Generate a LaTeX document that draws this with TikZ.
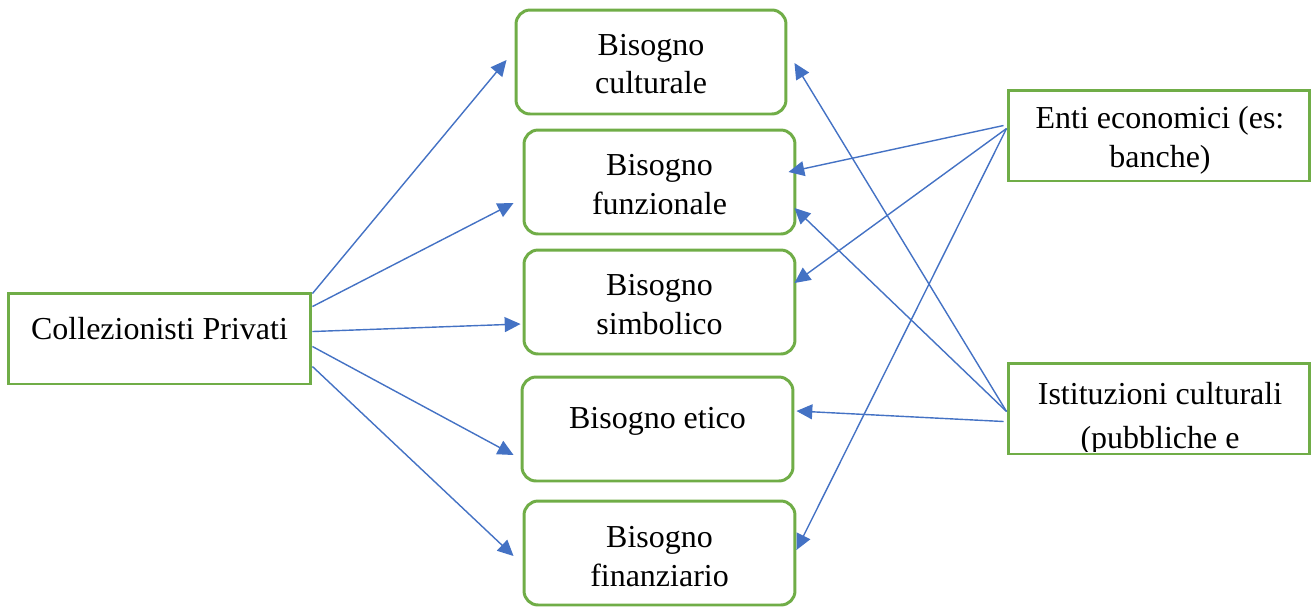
\documentclass[tikz,border=0pt]{standalone}
\usepackage{fontspec}
\setmainfont{Liberation Serif}
\usetikzlibrary{arrows.meta,calc}

\definecolor{boxgreen}{HTML}{70AD47}
\definecolor{arrowblue}{HTML}{4472C4}

\begin{document}
\begin{tikzpicture}[x=0.02cm,y=-0.02cm,
	box/.style={draw=boxgreen,line width=1.7pt,minimum width=6.06cm,minimum height=1.82cm,inner sep=0pt},
	bubble/.style={box,rounded corners=8pt,minimum width=5.42cm,minimum height=2.08cm},
	txt/.style={font=\fontsize{18.2}{22}\selectfont,align=center,inner sep=0pt},
	arr/.style={draw=arrowblue,line width=0.8pt,-{Triangle[length=9pt,width=8.5pt]}}]
		
		\useasboundingbox (0,0) rectangle (1312,606);
		
		% Left box
		\node[box] (cp) at (159.5,338.5) {};
		\node[txt] (cp-txt) at ($(cp)+(0,-10)$) {Collezionisti Privati};
		
		% Bisogni
		\node[bubble,minimum width=5.4cm] (cult) at (651,62) {};
		\node[txt] (cult-txt) at ($(cult)+(0,2)$) {Bisogno\\culturale};
		\node[bubble] (funz) at (659.5,182) {};
		\node[txt] (funz-txt) at ($(funz)+(0,2.5)$) {Bisogno\\funzionale};
		\node[bubble] (simb) at (659.5,302) {};
		\node[txt] (simb-txt) at ($(simb)+(0,2.5)$) {Bisogno\\simbolico};
		\node[bubble] (etico) at (657.5,429) {};
		\node[txt] (etico-txt) at ($(etico)+(0,-8)$) {Bisogno etico};
		\node[bubble] (fin) at (659.5,553) {};
		\node[txt] (fin-txt) at ($(fin)+(0,3.5)$) {Bisogno\\finanziario};
		
		% Right boxes (text cut by the box)
		\node[box,minimum width=6.04cm] (enti) at (1159,135.5) {};
		\begin{scope}
			\clip ($(enti.south west)+(2,-2)$) rectangle ($(enti.north east)+(-2,2)$);
			\node[txt] (enti-txt) at ($(enti)+(1,5)$) {Enti economici (es:\\banche)};
		\end{scope}
		\node[box,minimum width=6.04cm] (ist) at (1159,408.5) {};
		\begin{scope}
			\clip ($(ist.south west)+(2,-3.5)$) rectangle ($(ist.north east)+(-2,2)$);
			\node[txt] (ist-txt) at ($(ist)+(1,10)$) {Istituzioni culturali\\[3pt](pubbliche e};
		\end{scope}
		
		% Arrows from Collezionisti
		\draw[arr] ($(cp.north east)+(0,2)$) -- ($(cult.west)+(-8,-2)$);
		\draw[arr] ($(cp.north east)+(0,15)$) -- ($(funz.west)+(-9,21)$);
		\draw[arr] ($(cp.north east)+(0,40)$) -- ($(simb.west)+(-2,22)$);
		\draw[arr] ($(cp.north east)+(0,55)$) -- ($(etico.west)+(-7,26)$);
		\draw[arr] ($(cp.north east)+(0,75)$) -- ($(fin.west)+(-9,3)$);
		
		% Arrows from Enti economici
		\draw[arr] ($(enti.west)+(-3,-10)$) -- ($(funz.east)+(-8,-10)$);
		\draw[arr] ($(enti.west)+(0,-7)$) -- ($(simb.east)+(-2,-19)$);
		\draw[arr] ($(enti.west)+(0,-7)$) -- ($(fin.east)+(0,-3)$);
		
		% Arrows from Istituzioni
		\draw[arr] ($(ist.west)+(0,3)$) -- ($(cult.east)+(7,1)$);
		\draw[arr] ($(ist.west)+(0,3)$) -- ($(funz.east)+(-2,26)$);
		\draw[arr] ($(ist.west)+(-3,13)$) -- ($(etico.east)+(2,-18)$);
		
	\end{tikzpicture}
\end{document}
